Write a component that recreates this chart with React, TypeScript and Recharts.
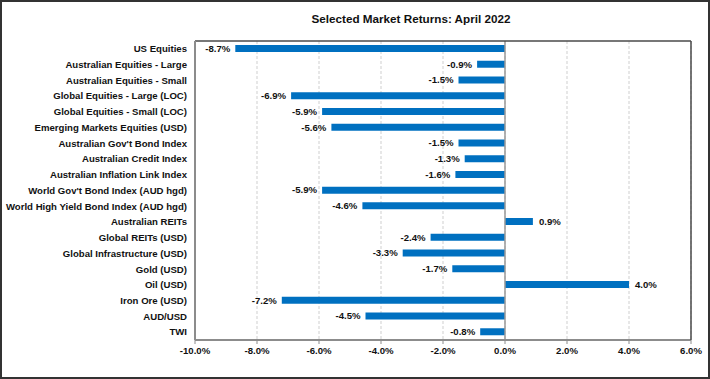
import React from "react";
import {
  BarChart,
  Bar,
  XAxis,
  YAxis,
  CartesianGrid,
  ReferenceLine,
  LabelList,
} from "recharts";

const categories = [
  "US Equities",
  "Australian Equities - Large",
  "Australian Equities - Small",
  "Global Equities - Large (LOC)",
  "Global Equities - Small (LOC)",
  "Emerging Markets Equities (USD)",
  "Australian Gov't Bond Index",
  "Australian Credit Index",
  "Australian Inflation Link Index",
  "World Gov't Bond Index (AUD hgd)",
  "World High Yield Bond Index (AUD hgd)",
  "Australian REITs",
  "Global REITs (USD)",
  "Global Infrastructure (USD)",
  "Gold (USD)",
  "Oil (USD)",
  "Iron Ore (USD)",
  "AUD/USD",
  "TWI",
];

const returns = [
  -8.7, -0.9, -1.5, -6.9, -5.9, -5.6, -1.5, -1.3, -1.6, -5.9, -4.6, 0.9, -2.4,
  -3.3, -1.7, 4.0, -7.2, -4.5, -0.8,
];

const xTicks = [-10, -8, -6, -4, -2, 0, 2, 4, 6];

const title = "Selected Market Returns: April 2022";

const data = categories.map((name, i) => ({ name, value: returns[i] }));

const FONT = "'Liberation Sans', Arial, sans-serif";
const TEXT = "#111";
const FS = 9.6;

const fmt = (v: number) => `${v.toFixed(1)}%`;

const ValueLabel = (props: any) => {
  const { x, y, width, height, value } = props;
  const left = Math.min(x, x + width);
  const right = Math.max(x, x + width);
  const neg = value < 0;
  return (
    <text
      x={neg ? left - 5 : right + 6}
      y={y + height / 2}
      dy="0.35em"
      textAnchor={neg ? "end" : "start"}
      fontFamily={FONT}
      fontSize={FS}
      fontWeight="bold"
      fill={TEXT}
    >
      {fmt(value)}
    </text>
  );
};

const CatTick = (props: any) => {
  const { x, y, payload } = props;
  return (
    <text
      x={x}
      y={y}
      dy="0.35em"
      textAnchor="end"
      fontFamily={FONT}
      fontSize={FS}
      fontWeight="bold"
      fill={TEXT}
    >
      {payload.value}
    </text>
  );
};

export default function App() {
  return (
    <div
      style={{
        position: "absolute",
        left: 0,
        top: 0,
        width: 710,
        height: 379,
        background: "#fff",
      }}
    >
      <div
        style={{
          position: "absolute",
          left: 211,
          top: 12,
          width: 400,
          textAlign: "center",
          fontFamily: FONT,
          fontWeight: "bold",
          fontSize: 11.7,
          color: TEXT,
        }}
      >
        {title}
      </div>
      <BarChart
        width={710}
        height={379}
        data={data}
        layout="vertical"
        margin={{ top: 40, right: 18, bottom: 14, left: 0 }}
        barSize={7}
      >
        <CartesianGrid
          horizontal={false}
          strokeDasharray="3 2"
          stroke="#cfcfcf"
          xAxisId="main"
          yAxisId="main"
        />
        <XAxis
          xAxisId="main"
          type="number"
          domain={[-10, 6]}
          ticks={xTicks}
          tickFormatter={fmt}
          interval={0}
          height={25}
          axisLine={{ stroke: "#8c8c8c", strokeWidth: 2 }}
          tickLine={{ stroke: "#8c8c8c" }}
          tickSize={4}
          tickMargin={3}
          tick={{
            fontFamily: FONT,
            fontSize: FS,
            fontWeight: "bold",
            fill: TEXT,
          }}
        />
        <XAxis
          xAxisId="top"
          orientation="top"
          type="number"
          domain={[-10, 6]}
          height={1}
          tick={false}
          tickLine={false}
          axisLine={{ stroke: "#4a4a4a", strokeWidth: 1.5 }}
        />
        <YAxis
          yAxisId="main"
          type="category"
          dataKey="name"
          width={195}
          interval={0}
          axisLine={{ stroke: "#8c8c8c", strokeWidth: 2 }}
          tickLine={false}
          tickSize={0}
          tickMargin={8}
          tick={<CatTick />}
        />
        <YAxis
          yAxisId="right"
          orientation="right"
          type="category"
          dataKey="name"
          width={1}
          tick={false}
          tickLine={false}
          axisLine={{ stroke: "#4a4a4a", strokeWidth: 1.5 }}
        />
        <ReferenceLine
          x={0}
          xAxisId="main"
          yAxisId="main"
          stroke="#9a9a9a"
          strokeWidth={1.5}
        />
        <Bar
          dataKey="value"
          xAxisId="main"
          yAxisId="main"
          fill="#0070C0"
          isAnimationActive={false}
        >
          <LabelList dataKey="value" content={<ValueLabel />} />
        </Bar>
      </BarChart>
      <div
        style={{
          position: "absolute",
          left: 0,
          top: 0,
          width: 710,
          height: 379,
          boxSizing: "border-box",
          border: "2px solid #333",
          pointerEvents: "none",
        }}
      />
    </div>
  );
}
